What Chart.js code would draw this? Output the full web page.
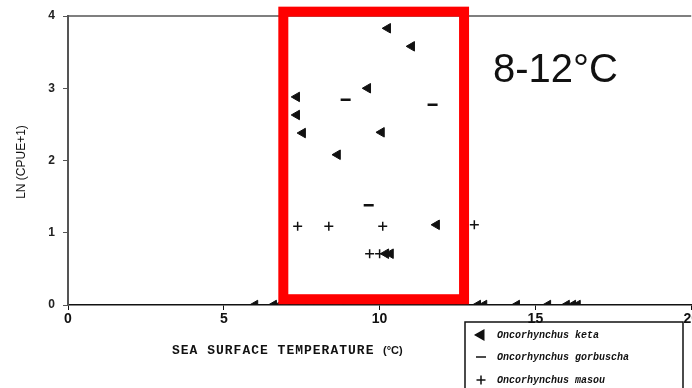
<!DOCTYPE html>
<html>
<head>
<meta charset="utf-8">
<script src="https://cdn.jsdelivr.net/npm/chart.js@4.4.1/dist/chart.umd.min.js"></script>
<style>
  html, body { margin: 0; padding: 0; background: #fff; overflow: hidden; }
</style>
</head>
<body>
<!-- płótno szersze o połowę etykiety "20", żeby oś kończyła się na krawędzi okna -->
<canvas id="sstChart" width="700" height="388"></canvas>
<script>
// Dane (temperatura °C, LN(CPUE+1))
const ketaX = [10.26, 11.03, 9.62, 7.34, 7.34, 7.53, 10.06, 8.65, 11.83, 10.2, 10.35,
               6.0, 6.6, 6.8, 7.0, 7.3, 7.8, 8.6, 9.0, 10.0, 10.4, 10.9, 11.6, 12.6,
               13.15, 13.35, 14.4, 15.4, 16.0, 16.2, 16.35];
const ketaY = [3.83, 3.58, 3.0, 2.88, 2.63, 2.38, 2.39, 2.08, 1.11, 0.71, 0.71,
               0, 0, 0, 0, 0, 0, 0, 0, 0, 0, 0, 0, 0,
               0, 0, 0, 0, 0, 0, 0];
const gorbuschaX = [8.91, 11.7, 9.65];
const gorbuschaY = [2.84, 2.77, 1.38];
const masouX = [7.37, 8.37, 10.1, 13.04, 9.68, 10.0];
const masouY = [1.09, 1.09, 1.09, 1.11, 0.71, 0.71];

const speciesNames = ['Oncorhynchus keta', 'Oncorhynchus gorbuscha', 'Oncorhynchus masou'];
const xTicks = [0, 5, 10, 15, 20];
const yTicks = [0, 1, 2, 3, 4];
const highlightRange = [6.91, 12.71];   // zakres 8-12°C zaznaczony ramką
const highlightLabel = '8-12°C';

const toPoints = (xs, ys) => xs.map((x, i) => ({ x: x, y: ys[i] }));

// Ramka, legenda i opisy osi
const annotatePlugin = {
    id: 'annotate',
    afterDatasetsDraw(chart) {
        const ctx = chart.ctx;
        const xs = chart.scales.x, ys = chart.scales.y;
        const area = chart.chartArea;
        ctx.save();

        // górna linia ramki wykresu
        ctx.strokeStyle = '#555';
        ctx.lineWidth = 1.5;
        ctx.beginPath();
        ctx.moveTo(area.left, area.top);
        ctx.lineTo(area.right, area.top);
        ctx.stroke();

        // czerwona ramka
        const x1 = xs.getPixelForValue(highlightRange[0]);
        const x2 = xs.getPixelForValue(highlightRange[1]);
        const y1 = ys.getPixelForValue(4.06);
        const y2 = ys.getPixelForValue(0.08);
        ctx.strokeStyle = '#ff0000';
        ctx.lineWidth = 10;
        ctx.strokeRect(x1, y1, x2 - x1, y2 - y1);

        ctx.fillStyle = '#111';
        ctx.font = '40px "Liberation Sans", Arial, sans-serif';
        ctx.textBaseline = 'alphabetic';
        ctx.textAlign = 'left';
        ctx.fillText(highlightLabel, 493, 82);

        // tytuł osi X
        ctx.font = 'bold 13px "Liberation Mono", "DejaVu Sans Mono", monospace';
        ctx.letterSpacing = '1px';
        ctx.fillText('SEA SURFACE TEMPERATURE', 172, 354);
        ctx.letterSpacing = '0px';
        ctx.font = 'bold 11px "Liberation Sans", Arial, sans-serif';
        ctx.fillText('(°C)', 383, 354);

        // tytuł osi Y
        ctx.save();
        ctx.translate(25, 162);
        ctx.rotate(-Math.PI / 2);
        ctx.textAlign = 'center';
        ctx.font = '12px "Liberation Sans", Arial, sans-serif';
        ctx.fillText('LN (CPUE+1)', 0, 0);
        ctx.restore();

        // legenda
        ctx.strokeStyle = '#111';
        ctx.lineWidth = 1.5;
        ctx.beginPath();
        ctx.moveTo(465, 392);
        ctx.lineTo(465, 322);
        ctx.lineTo(683, 322);
        ctx.lineTo(683, 392);
        ctx.stroke();

        const rows = [335, 357, 380];
        ctx.font = 'italic bold 10px "Liberation Mono", "DejaVu Sans Mono", monospace';
        ctx.textBaseline = 'middle';
        chart.data.datasets.forEach((ds, i) => {
            Chart.helpers.drawPoint(ctx, {
                pointStyle: ds.pointStyle,
                radius: ds.pointRadius,
                rotation: ds.rotation || 0,
                borderWidth: ds.borderWidth
            }, 481, rows[i]);
            ctx.fillStyle = '#111';
            ctx.strokeStyle = '#111';
            ctx.fill();
            ctx.fillText(ds.label, 497, rows[i]);
        });
        ctx.restore();
    }
};

new Chart(document.getElementById('sstChart'), {
    type: 'scatter',
    data: {
        datasets: [{
            label: speciesNames[0],
            data: toPoints(ketaX, ketaY),
            pointStyle: 'triangle',
            rotation: -90,
            pointRadius: 5.5,
            backgroundColor: '#111',
            borderColor: '#111',
            borderWidth: 1
        }, {
            label: speciesNames[1],
            data: toPoints(gorbuschaX, gorbuschaY),
            pointStyle: 'line',
            pointRadius: 5,
            backgroundColor: '#111',
            borderColor: '#111',
            borderWidth: 2.5
        }, {
            label: speciesNames[2],
            data: toPoints(masouX, masouY),
            pointStyle: 'cross',
            pointRadius: 4.5,
            backgroundColor: '#111',
            borderColor: '#111',
            borderWidth: 1.5
        }]
    },
    options: {
        responsive: false,
        animation: false,
        devicePixelRatio: 1,
        layout: { padding: { top: 16, left: 0, right: 0, bottom: 0 } },
        plugins: {
            legend: { display: false },
            tooltip: { enabled: false }
        },
        scales: {
            x: {
                type: 'linear',
                min: 0,
                max: 20,
                afterBuildTicks: s => { s.ticks = xTicks.map(v => ({ value: v })); },
                afterFit: s => { s.height = 83; },
                border: { color: '#111', width: 1.5 },
                grid: { drawOnChartArea: false, drawTicks: true, tickLength: 5, color: '#111' },
                ticks: {
                    padding: 1,
                    color: '#111',
                    font: { family: '"Liberation Sans", Arial, sans-serif', size: 14, weight: 'bold' }
                }
            },
            y: {
                type: 'linear',
                min: 0,
                max: 4,
                afterBuildTicks: s => { s.ticks = yTicks.map(v => ({ value: v })); },
                afterFit: s => { s.width = 68; },
                border: { color: '#555', width: 2 },
                grid: { drawOnChartArea: false, drawTicks: true, tickLength: 5, color: '#555' },
                ticks: {
                    padding: 8,
                    color: '#222',
                    font: { family: '"Liberation Sans", Arial, sans-serif', size: 12, weight: 'bold' }
                }
            }
        }
    },
    plugins: [annotatePlugin]
});
</script>
</body>
</html>
